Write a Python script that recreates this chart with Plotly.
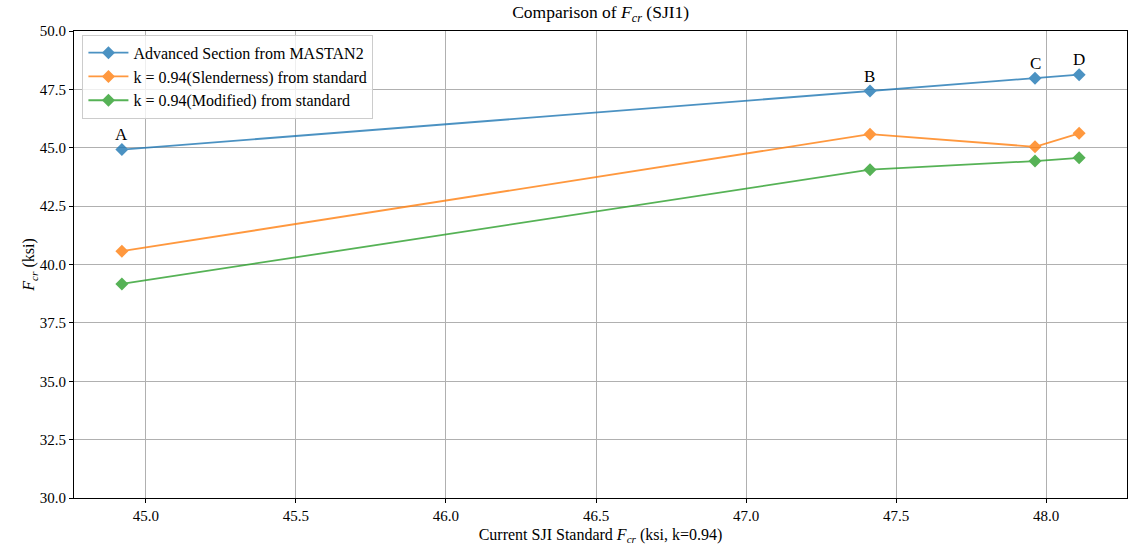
import plotly.graph_objects as go

points = ["A", "B", "C", "D"]
sji_standard = [44.92, 47.413, 47.963, 48.11]
advanced_mastan2 = [44.92, 47.43, 47.98, 48.13]
k094_slenderness = [40.57, 45.58, 45.04, 45.62]
k094_modified = [39.17, 44.06, 44.43, 44.57]

series_names = [
    "Advanced Section from MASTAN2",
    "k = 0.94(Slenderness) from standard",
    "k = 0.94(Modified) from standard",
]
colors = ["#1f77b4", "#ff7f0e", "#2ca02c"]

FONT = "Liberation Serif, serif"

fig = go.Figure()
for name, vals, c in zip(series_names, [advanced_mastan2, k094_slenderness, k094_modified], colors):
    fig.add_trace(go.Scatter(
        x=sji_standard, y=vals, name=name, mode="lines+markers",
        line=dict(color=c, width=1.8),
        marker=dict(symbol="diamond", size=10, color=c),
        opacity=0.8,
    ))

for p, xv, yv in zip(points, sji_standard, advanced_mastan2):
    fig.add_annotation(x=xv, y=yv, text=p, showarrow=False, yshift=15,
                       font=dict(family=FONT, size=17, color="black"))

axis_common = dict(
    showgrid=True, gridcolor="#b0b0b0", gridwidth=0.8,
    showline=True, linecolor="black", linewidth=1, mirror=True,
    ticks="outside", ticklen=4, tickcolor="black",
    tickfont=dict(family=FONT, size=15, color="black"),
    zeroline=False,
)

fig.update_layout(
    width=1129, height=548,
    font=dict(family=FONT, color="black"),
    margin=dict(l=74, r=2, t=31, b=50),
    paper_bgcolor="white", plot_bgcolor="white",
    title=dict(text="Comparison of <i>F<sub>cr</sub></i> (SJI1)", x=0.532, xanchor="center",
               y=0.978, yanchor="middle",
               font=dict(family=FONT, size=17.5, color="black")),
    xaxis=dict(range=[44.7605, 48.2695], tickvals=[45.0, 45.5, 46.0, 46.5, 47.0, 47.5, 48.0],
               ticktext=["45.0", "45.5", "46.0", "46.5", "47.0", "47.5", "48.0"],
               title=dict(text="Current SJI Standard <i>F<sub>cr</sub></i> (ksi, k=0.94)",
                          font=dict(family=FONT, size=16, color="black"), standoff=5),
               **axis_common),
    yaxis=dict(range=[30, 50], tickvals=[30, 32.5, 35, 37.5, 40, 42.5, 45, 47.5, 50],
               ticktext=["30.0", "32.5", "35.0", "37.5", "40.0", "42.5", "45.0", "47.5", "50.0"],
               title=dict(text="<i>F<sub>cr</sub></i> (ksi)",
                          font=dict(family=FONT, size=16, color="black"), standoff=0),
               **axis_common),
    legend=dict(x=0.008, y=0.992, xanchor="left", yanchor="top",
                bgcolor="rgba(255,255,255,0.8)", bordercolor="#cccccc", borderwidth=1,
                font=dict(family=FONT, size=16, color="black"), tracegroupgap=0,
                itemwidth=40),
    showlegend=True,
)

fig.write_html("out.html", config={"displayModeBar": False},
               post_script="document.body.style.margin='0';document.body.style.overflow='hidden';")
